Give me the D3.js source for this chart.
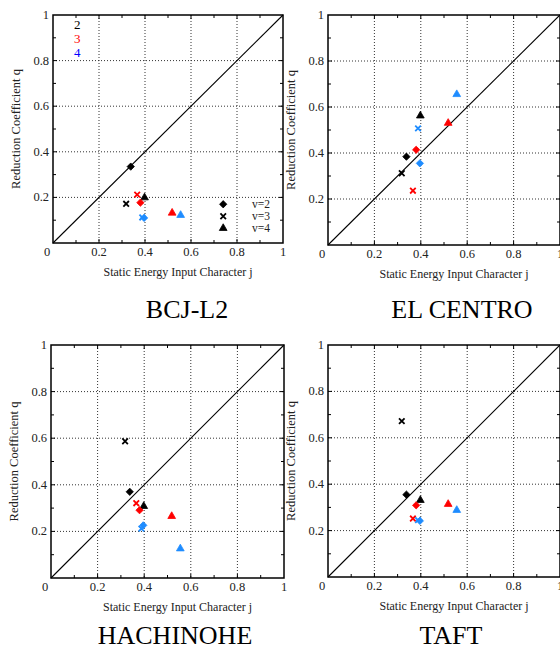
<!DOCTYPE html>
<html>
<head>
<meta charset="utf-8">
<script src="https://cdnjs.cloudflare.com/ajax/libs/d3/7.8.5/d3.min.js"></script>
<style>
  body { margin: 0; background: #fff; }
</style>
</head>
<body>
<div id="chart"></div>
<script>
// panel titles
var titles = ["BCJ-L2", "EL CENTRO", "HACHINOHE", "TAFT"];
// legend: colour groups and v (marker shape)
var groups = ["2", "3", "4"];
var vLabels = ["v=2", "v=3", "v=4"];
var tickVals = [0.2, 0.4, 0.6, 0.8, 1];
var tickLabels = ["0.2", "0.4", "0.6", "0.8", "1"];

// static energy input character j, per group, for v=2, v=3, v=4
var j2 = [0.338, 0.318, 0.398];
var j3 = [0.380, 0.366, 0.518];
var j4 = [0.396, 0.388, 0.555];

// reduction coefficient q per record, per group, v=2, v=3, v=4
var qBCJ2 = [0.335, 0.172, 0.199];
var qBCJ3 = [0.177, 0.212, 0.132];
var qBCJ4 = [0.110, 0.112, 0.122];

var qELC2 = [0.384, 0.312, 0.562];
var qELC3 = [0.414, 0.236, 0.530];
var qELC4 = [0.355, 0.507, 0.655];

var qHAC2 = [0.370, 0.587, 0.308];
var qHAC3 = [0.291, 0.321, 0.265];
var qHAC4 = [0.226, 0.212, 0.126];

var qTAF2 = [0.355, 0.672, 0.331];
var qTAF3 = [0.309, 0.252, 0.314];
var qTAF4 = [0.242, 0.245, 0.288];

var jAll = [j2, j3, j4];
var qAll = [
  [qBCJ2, qBCJ3, qBCJ4],
  [qELC2, qELC3, qELC4],
  [qHAC2, qHAC3, qHAC4],
  [qTAF2, qTAF3, qTAF4]
];

var markColors = ["#000000", "#ff0000", "#1e8cff"];
var legendColors = ["#000000", "#ff0000", "#0000ff"];
var FONT = "'Liberation Serif', 'Times New Roman', Times, serif";

// panel boxes (plot frame) and title position
var boxes = [
  {l: 53, r: 283, t: 15, b: 243, tx: 187, ty: 318},
  {l: 328, r: 560, t: 15, b: 245, tx: 462, ty: 318},
  {l: 51, r: 284, t: 345, b: 578, tx: 175, ty: 644},
  {l: 328, r: 560, t: 345, b: 577, tx: 451, ty: 644}
];

var svg = d3.select("#chart").append("svg")
    .attr("width", 560)
    .attr("height", 651)
    .style("font-family", FONT);

var shapeFns = [
  d3.symbol().type(d3.symbolDiamond2).size(34),
  d3.symbol().type(d3.symbolX).size(22),
  d3.symbol().type(d3.symbolTriangle).size(26)
];

function drawMark(g, k, x, y, col) {
  var p = g.append("path")
      .attr("d", shapeFns[k]())
      .attr("transform", "translate(" + x + "," + y + ")");
  if (k === 1) {
    p.attr("fill", "none").attr("stroke", col).attr("stroke-width", 1.8);
  } else {
    p.attr("fill", col).attr("stroke", col).attr("stroke-width", 0.8);
  }
}

boxes.forEach(function (bx, pi) {
  var x = d3.scaleLinear().domain([0, 1]).range([bx.l, bx.r]);
  var y = d3.scaleLinear().domain([0, 1]).range([bx.b, bx.t]);
  var g = svg.append("g");

  // dotted grid
  var grid = [0.2, 0.4, 0.6, 0.8];
  g.selectAll(".gx").data(grid).enter().append("line")
      .attr("x1", function (d) { return x(d); }).attr("x2", function (d) { return x(d); })
      .attr("y1", bx.t).attr("y2", bx.b)
      .attr("stroke", "#333").attr("stroke-width", 1).attr("stroke-dasharray", "1,2");
  g.selectAll(".gy").data(grid).enter().append("line")
      .attr("y1", function (d) { return y(d); }).attr("y2", function (d) { return y(d); })
      .attr("x1", bx.l).attr("x2", bx.r)
      .attr("stroke", "#333").attr("stroke-width", 1).attr("stroke-dasharray", "1,2");

  // inner ticks on all sides
  var minor = d3.range(1, 10).map(function (i) { return i / 10; });
  minor.forEach(function (v, i) {
    var len = (i % 2 === 1) ? 4 : 3;
    g.append("line").attr("x1", x(v)).attr("x2", x(v)).attr("y1", bx.b).attr("y2", bx.b - len)
        .attr("stroke", "#000");
    g.append("line").attr("x1", x(v)).attr("x2", x(v)).attr("y1", bx.t).attr("y2", bx.t + len)
        .attr("stroke", "#000");
    g.append("line").attr("y1", y(v)).attr("y2", y(v)).attr("x1", bx.l).attr("x2", bx.l + len)
        .attr("stroke", "#000");
    g.append("line").attr("y1", y(v)).attr("y2", y(v)).attr("x1", bx.r).attr("x2", bx.r - len)
        .attr("stroke", "#000");
  });

  // diagonal q = j
  g.append("line")
      .attr("x1", x(0)).attr("y1", y(0)).attr("x2", x(1)).attr("y2", y(1))
      .attr("stroke", "#000").attr("stroke-width", 1.1);

  // frame
  g.append("rect")
      .attr("x", bx.l).attr("y", bx.t).attr("width", bx.r - bx.l).attr("height", bx.b - bx.t)
      .attr("fill", "none").attr("stroke", "#000").attr("stroke-width", 1.5);

  // tick labels
  g.selectAll(".tx").data(tickVals).enter().append("text")
      .attr("x", function (d) { return x(d); }).attr("y", bx.b + 13)
      .attr("text-anchor", "middle").attr("font-size", 12.5).attr("fill", "#222")
      .text(function (d, i) { return tickLabels[i]; });
  g.selectAll(".ty").data(tickVals).enter().append("text")
      .attr("x", bx.l - 4).attr("y", function (d) { return y(d) + 4; })
      .attr("text-anchor", "end").attr("font-size", 12.5).attr("fill", "#222")
      .text(function (d, i) { return tickLabels[i]; });
  g.append("text").attr("x", bx.l - 6).attr("y", bx.b + 13)
      .attr("text-anchor", "middle").attr("font-size", 12.5).attr("fill", "#222").text("0");

  // axis labels
  g.append("text")
      .attr("x", (bx.l + bx.r) / 2 + 10).attr("y", bx.b + 33)
      .attr("text-anchor", "middle").attr("font-size", 12).attr("fill", "#222")
      .text("Static Energy Input Character j");
  g.append("text")
      .attr("transform", "translate(" + (bx.l - 33) + "," + ((bx.t + bx.b) / 2) + ") rotate(-90)")
      .attr("text-anchor", "middle").attr("font-size", 12.5).attr("fill", "#222")
      .text("Reduction Coefficient q");

  // title
  g.append("text")
      .attr("x", bx.tx).attr("y", bx.ty)
      .attr("text-anchor", "middle").attr("font-size", 26).attr("fill", "#000")
      .text(titles[pi]);

  // points
  qAll[pi].forEach(function (qs, gi) {
    qs.forEach(function (q, k) {
      drawMark(g, k, x(jAll[gi][k]), y(q), markColors[gi]);
    });
  });

  // legend in first panel
  if (pi === 0) {
    groups.forEach(function (s, i) {
      g.append("text").attr("x", x(0.105)).attr("y", y(0.94) + i * 14)
          .attr("text-anchor", "middle").attr("font-size", 13)
          .attr("fill", legendColors[i]).text(s);
    });
    vLabels.forEach(function (s, i) {
      drawMark(g, i, x(0.74), y(0.17) + i * 12, "#000");
      g.append("text").attr("x", x(0.865)).attr("y", y(0.17) + i * 12 + 4)
          .attr("font-size", 11.5).attr("fill", "#222").text(s);
    });
  }
});
</script>
</body>
</html>
